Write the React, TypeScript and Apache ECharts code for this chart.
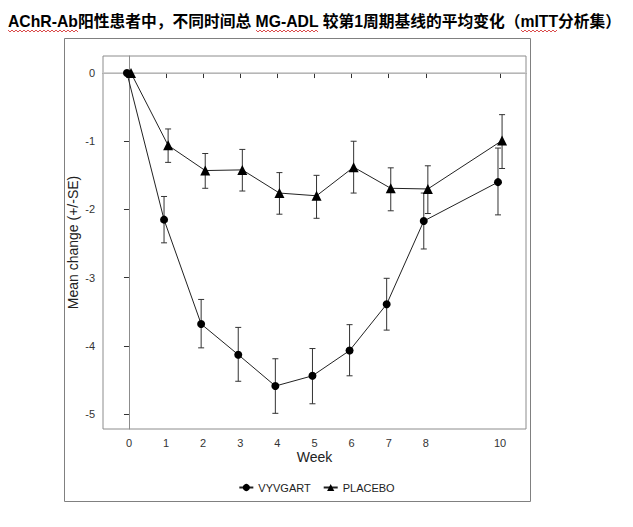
import React, { useEffect, useRef } from "react";
import * as echarts from "echarts";

const TITLE_PARTS = ["AChR-Ab", "阳性患者中，不同时间总 ", "MG-ADL", " 较第1周期基线的平均变化（", "mITT", "分析集）"];
const UNDERLINED = [0, 2, 4];
const weeks = [0, 1, 2, 3, 4, 5, 6, 7, 8, 10];
const xTickValues = [0, 1, 2, 3, 4, 5, 6, 7, 8, 10];
const yTickValues = [0, -1, -2, -3, -4, -5];

const vyvMean = [0, -2.15, -3.68, -4.13, -4.59, -4.44, -4.07, -3.39, -2.17, -1.6];
const vyvUpper = [0, -1.81, -3.32, -3.73, -4.19, -4.04, -3.69, -3.01, -1.76, -1.1];
const vyvLower = [0, -2.49, -4.03, -4.52, -4.99, -4.85, -4.44, -3.77, -2.58, -2.08];

const pboMean = [0, -1.06, -1.43, -1.42, -1.76, -1.8, -1.38, -1.69, -1.7, -0.99];
const pboUpper = [0, -0.82, -1.18, -1.12, -1.46, -1.5, -1.0, -1.39, -1.36, -0.61];
const pboLower = [0, -1.31, -1.69, -1.73, -2.07, -2.13, -1.76, -2.02, -2.06, -1.4];

const DODGE = 0.055;
const FONT = "'Liberation Sans', Arial, 'Noto Sans CJK SC', sans-serif";

function wavy(x0: number, x1: number, y: number) {
  const pts: number[][] = [];
  let up = true;
  for (let x = x0; x <= x1; x += 2) {
    pts.push([x, up ? y - 1 : y + 1]);
    up = !up;
  }
  return {
    type: "polyline",
    shape: { points: pts },
    style: { stroke: "#d02020", lineWidth: 0.8, fill: null },
    silent: true,
  };
}

function errRender(params: any, api: any) {
  const x = api.value(0);
  const lo = api.value(1);
  const hi = api.value(2);
  if (lo === hi) return { type: "group", children: [] };
  const p1 = api.coord([x, hi]);
  const p2 = api.coord([x, lo]);
  const st = { stroke: "#333", lineWidth: 1 };
  const c = 3;
  return {
    type: "group",
    children: [
      { type: "line", shape: { x1: p1[0], y1: p1[1], x2: p2[0], y2: p2[1] }, style: st },
      { type: "line", shape: { x1: p1[0] - c, y1: p1[1], x2: p1[0] + c, y2: p1[1] }, style: st },
      { type: "line", shape: { x1: p2[0] - c, y1: p2[1], x2: p2[0] + c, y2: p2[1] }, style: st },
    ],
  };
}

function titleGraphics() {
  const x0 = 8;
  const target = 614;
  const canvas = document.createElement("canvas");
  const ctx = canvas.getContext("2d")!;
  const full = TITLE_PARTS.join("");
  ctx.font = `bold 16px ${FONT}`;
  let fs = 16;
  const w16 = ctx.measureText(full).width;
  if (w16 > 0) fs = Math.min(16.4, Math.max(15.5, (16 * target) / w16));
  ctx.font = `bold ${fs}px ${FONT}`;
  const items: any[] = [
    {
      type: "text",
      x: x0,
      y: 21,
      style: {
        text: full,
        fontSize: fs,
        fontWeight: "bold",
        fontFamily: FONT,
        fill: "#000",
        verticalAlign: "middle",
      },
    },
  ];
  let acc = "";
  TITLE_PARTS.forEach((p, i) => {
    const start = x0 + ctx.measureText(acc).width;
    acc += p;
    const end = x0 + ctx.measureText(acc).width;
    if (UNDERLINED.includes(i)) items.push(wavy(Math.round(start), Math.round(end), 31));
  });
  return items;
}

export default function App() {
  const ref = useRef<HTMLDivElement>(null);
  useEffect(() => {
    const chart = echarts.init(ref.current!, null, { renderer: "svg" });
    const vyvX = weeks.map((w) => w - DODGE);
    const pboX = weeks.map((w) => w + DODGE);
    chart.setOption({
      animation: false,
      textStyle: { fontFamily: FONT },
      graphic: [
        ...titleGraphics(),
        {
          type: "rect",
          shape: { x: 64.5, y: 38.5, width: 466, height: 463 },
          style: { stroke: "#808080", lineWidth: 1, fill: null },
          silent: true,
          z: -1,
        },
      ],
      grid: {
        left: 103,
        right: 107,
        top: 56,
        bottom: 98,
        show: true,
        borderColor: "#8c8c8c",
        borderWidth: 1,
      },
      legend: {
        left: "center",
        top: 477,
        itemWidth: 14,
        itemHeight: 9,
        itemGap: 12,
        textStyle: { fontSize: 11, color: "#222", fontFamily: FONT },
        data: ["VYVGART", "PLACEBO"],
      },
      xAxis: {
        type: "value",
        min: -0.7,
        max: 10.7,
        name: "Week",
        nameLocation: "middle",
        nameGap: 21,
        nameMoveOverlap: false,
        nameTextStyle: { fontSize: 14, color: "#222", fontFamily: FONT },
        axisLine: { show: true, lineStyle: { color: "#8c8c8c" } },
        axisTick: { show: true, length: 5, customValues: xTickValues, lineStyle: { color: "#333" } },
        axisLabel: { customValues: xTickValues, fontSize: 11, color: "#333", margin: 8, fontFamily: FONT },
        splitLine: { show: false },
      },
      yAxis: {
        type: "value",
        min: -5.22,
        max: 0.25,
        name: "Mean change (+/-SE)",
        nameLocation: "middle",
        nameGap: 23,
        nameMoveOverlap: false,
        nameTextStyle: { fontSize: 14, color: "#222", fontFamily: FONT },
        axisLine: { show: true, lineStyle: { color: "#8c8c8c" } },
        axisTick: { show: true, length: 5, customValues: yTickValues, lineStyle: { color: "#333" } },
        axisLabel: { customValues: yTickValues, fontSize: 11, color: "#333", margin: 8, fontFamily: FONT },
        splitLine: { show: false },
      },
      series: [
        {
          type: "custom",
          name: "vyvErr",
          renderItem: errRender,
          data: weeks.map((_, i) => [vyvX[i], vyvLower[i], vyvUpper[i]]),
          encode: { x: 0, y: [1, 2] },
          z: 2,
          silent: true,
        },
        {
          type: "custom",
          name: "pboErr",
          renderItem: errRender,
          data: weeks.map((_, i) => [pboX[i], pboLower[i], pboUpper[i]]),
          encode: { x: 0, y: [1, 2] },
          z: 2,
          silent: true,
        },
        {
          type: "line",
          name: "VYVGART",
          data: weeks.map((_, i) => [vyvX[i], vyvMean[i]]),
          symbol: "circle",
          symbolSize: 8,
          itemStyle: { color: "#000" },
          lineStyle: { color: "#222", width: 1 },
          z: 3,
          markLine: {
            silent: true,
            symbol: "none",
            label: { show: false },
            lineStyle: { color: "#c4c4c4", width: 1.5, type: "solid" },
            data: [{ yAxis: 0 }],
            z: 1,
          },
        },
        {
          type: "line",
          name: "PLACEBO",
          data: weeks.map((_, i) => [pboX[i], pboMean[i]]),
          symbol: "triangle",
          symbolSize: 10,
          itemStyle: { color: "#000" },
          lineStyle: { color: "#222", width: 1 },
          z: 3,
        },
      ],
    });
    return () => chart.dispose();
  }, []);
  return (
    <div
      ref={ref}
      style={{ position: "fixed", left: 0, top: 0, width: 633, height: 527, background: "#fff" }}
    />
  );
}
